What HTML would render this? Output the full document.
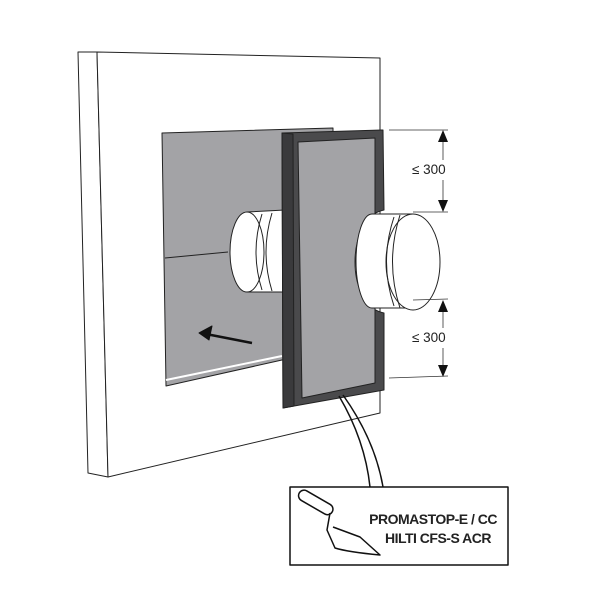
<!DOCTYPE html>
<html><head><style>body{margin:0;background:#fff}svg{display:block}</style></head><body>
<svg width="600" height="600" viewBox="0 0 600 600" xmlns="http://www.w3.org/2000/svg" font-family="Liberation Sans, sans-serif">
<g stroke="#222" stroke-width="1" fill="#fff" stroke-linejoin="round">
<polygon points="78,52 97,52 108,477 88,473"/>
<polygon points="97,52 380,58 380,413 108,477"/>
<polygon points="162,133 333,128 333,360 282,360 166,386" fill="#a3a3a6"/>
<polyline points="166,380 282,356" fill="none" stroke="#fff" stroke-width="2"/>
<line x1="165" y1="258" x2="228" y2="252"/>
<path d="M247,212 L285,210 L285,292 L247,292 Z" fill="#fff" stroke="none"/>
<ellipse cx="247" cy="252" rx="17" ry="40"/>
<path d="M247,212 L285,210 M247,292 L285,292" fill="none"/>
<path d="M262,214 Q250,252 262,290 M272,213 Q260,252 272,291" fill="none"/>
<path d="M282,133 L383,130 L384,210 A37,52 0 0 0 384,313 L384,390 L283,408 Z" fill="#4a4a4c" stroke="#222"/>
<path d="M282,133 L293,134 L294,406 L283,408 Z" fill="#3a3a3c"/>
<path d="M298,142 L375,138 L375,220 A20,42 0 0 0 375,304 L375,383 L302,398 Z" fill="#a3a3a6" stroke="#222"/>
<path d="M413,214 L372,214 A16,47 0 0 0 372,308 L413,308 Z" fill="#fff"/>
<ellipse cx="413" cy="262" rx="27" ry="48"/>
<path d="M400,215 Q385,262 400,308" fill="none"/>
<path d="M394,217 Q379,262 394,306" fill="none"/>
<line x1="252" y1="343" x2="206" y2="334" stroke="#111" stroke-width="2.5"/>
<polygon points="199,333 212,326 209,340" fill="#111" stroke="#111"/>
<g fill="none" stroke="#333" stroke-width="0.8">
<line x1="389" y1="130" x2="448" y2="130"/><line x1="413" y1="212" x2="448" y2="212"/>
<line x1="413" y1="300" x2="448" y2="299"/><line x1="389" y1="378" x2="448" y2="376"/>
<line x1="443" y1="133" x2="443" y2="160"/><line x1="443" y1="180" x2="443" y2="210"/>
<line x1="443" y1="301" x2="443" y2="328"/><line x1="443" y1="348" x2="443" y2="375"/>
</g>
<g fill="#111" stroke="none">
<polygon points="443,130 438,142 448,142"/><polygon points="443,212 438,200 448,200"/>
<polygon points="443,300 438,312 448,312"/><polygon points="443,377 438,365 448,365"/>
</g>
<path d="M339,396 Q365,440 370,487 M343,395 Q375,440 383,487" fill="none" stroke="#111" stroke-width="1.5"/>
<rect x="290" y="487" width="218" height="78" stroke="#111" stroke-width="1.5"/>
<g fill="none" stroke="#111" stroke-width="1.5">
<rect x="297" y="497" width="38" height="11" rx="5.5" transform="rotate(30 316 502)"/>
<path d="M330,513 L327,530 L335,548 Q348,552 380,555 L360,537 L333,527"/>
</g>
</g>
<g font-size="13.5" fill="#222" font-family="Liberation Sans, sans-serif">
<text x="412" y="174">≤ 300</text>
<text x="412" y="342">≤ 300</text>
</g>
<g font-size="14" font-weight="bold" fill="#222" text-anchor="end" font-family="Liberation Sans Narrow, Liberation Sans, sans-serif" letter-spacing="-0.5">
<text x="497" y="524">PROMASTOP-E / CC</text>
<text x="491" y="543">HILTI CFS-S ACR</text>
</g>
</svg>
</body></html>
